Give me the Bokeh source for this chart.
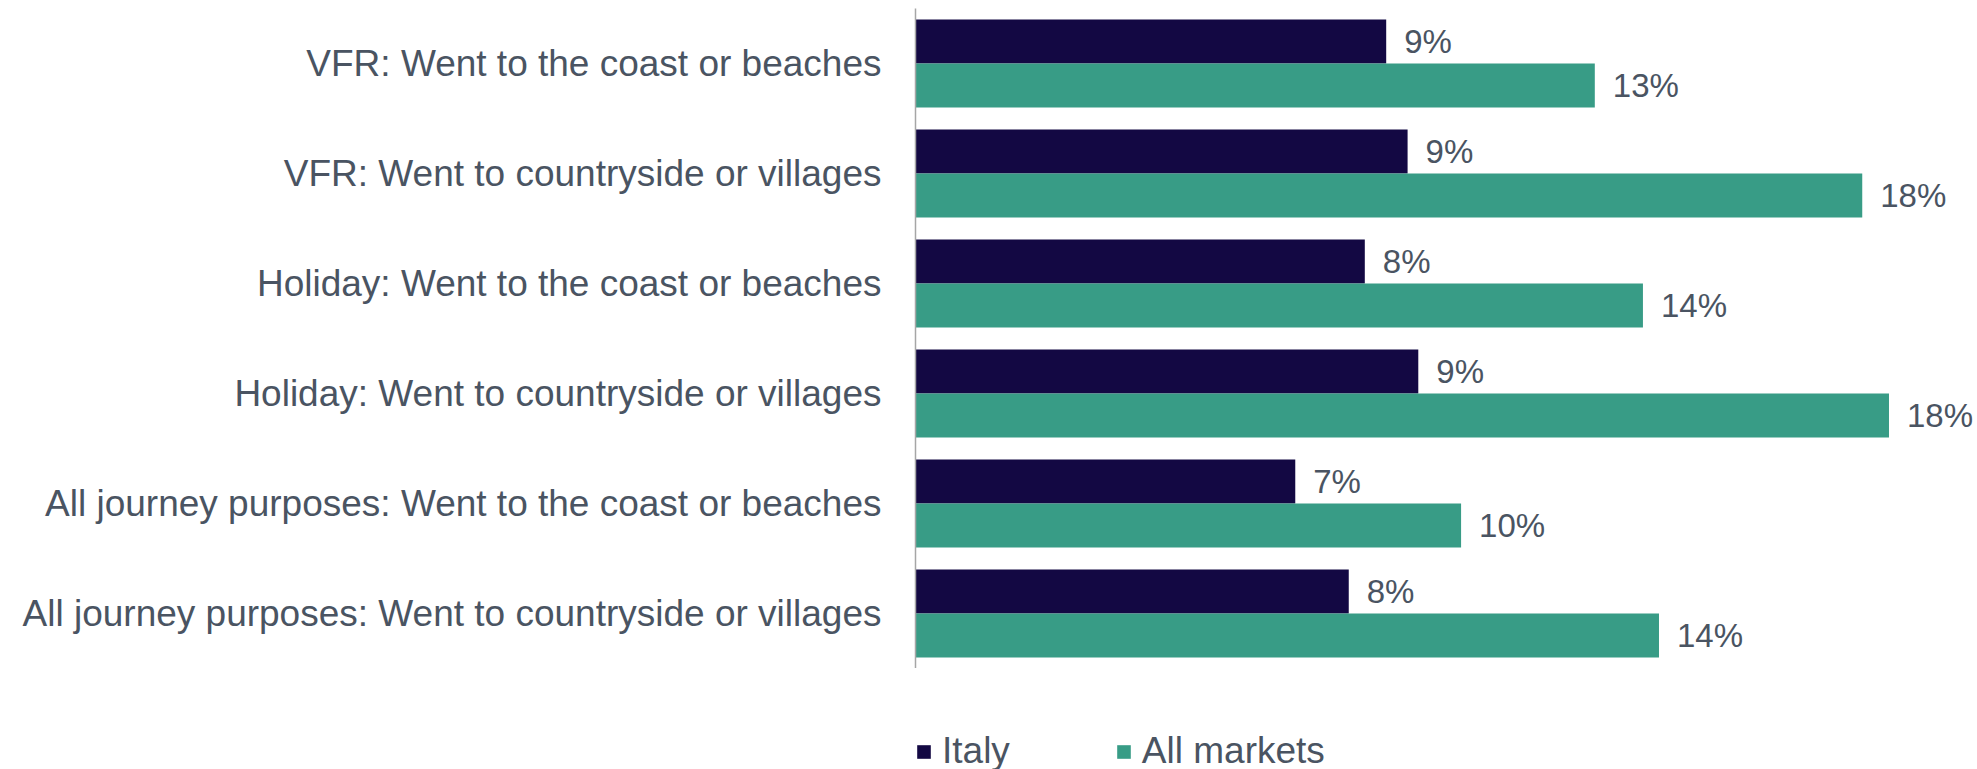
from bokeh.plotting import figure
from bokeh.models import ColumnDataSource, Range1d, FactorRange, Legend, LegendItem
from bokeh.layouts import column
from bokeh.transform import dodge
from bokeh.core.properties import value
from bokeh.embed import file_html
from bokeh.resources import INLINE

# ---- data (top to bottom as in the chart) ----
categories = [
    "VFR: Went to the coast or beaches",
    "VFR: Went to countryside or villages",
    "Holiday: Went to the coast or beaches",
    "Holiday: Went to countryside or villages",
    "All journey purposes: Went to the coast or beaches",
    "All journey purposes: Went to countryside or villages",
]
italy = [8.8, 9.2, 8.4, 9.4, 7.1, 8.1]
all_markets = [12.7, 17.7, 13.6, 18.2, 10.2, 13.9]
series_names = ["Italy", "All markets"]

NAVY = "#130843"
GREEN = "#389C86"
TEXT = "#4A5462"
FONT = "Liberation Sans"

src = ColumnDataSource(dict(
    cat=categories,
    italy=italy,
    allm=all_markets,
    italy_lbl=[f"{round(v)}%" for v in italy],
    allm_lbl=[f"{round(v)}%" for v in all_markets],
))

p = figure(
    frame_width=1058, frame_height=660,
    y_range=FactorRange(*list(reversed(categories)), range_padding=0),
    x_range=Range1d(0, 19.78),
    x_axis_location=None,
    output_backend="svg", toolbar_location=None,
    min_border_left=915, min_border_right=2, min_border_top=8, min_border_bottom=0,
)
p.outline_line_color = None
p.grid.visible = False

p.hbar(y=dodge("cat", 0.2, range=p.y_range), right="italy", left=0, height=0.4,
       source=src, fill_color=NAVY, line_color=None)
p.hbar(y=dodge("cat", -0.2, range=p.y_range), right="allm", left=0, height=0.4,
       source=src, fill_color=GREEN, line_color=None)

p.text(x="italy", y=dodge("cat", 0.2, range=p.y_range), text="italy_lbl", source=src,
       x_offset=18, text_align="left", text_baseline="middle",
       text_font=value(FONT), text_font_size="33px", text_color=TEXT)
p.text(x="allm", y=dodge("cat", -0.2, range=p.y_range), text="allm_lbl", source=src,
       x_offset=18, text_align="left", text_baseline="middle",
       text_font=value(FONT), text_font_size="33px", text_color=TEXT)

ax = p.yaxis[0]
ax.major_tick_line_color = None
ax.minor_tick_line_color = None
ax.major_tick_out = 0
ax.major_label_standoff = 34
ax.axis_line_color = "#A6A6A6"
ax.axis_line_width = 1.5
ax.major_label_text_font = FONT
ax.major_label_text_font_size = "37px"
ax.major_label_text_color = TEXT

# ---- legend strip below the chart ----
leg = figure(
    frame_width=1058, frame_height=101,
    x_range=Range1d(0, 1), y_range=Range1d(0, 1),
    x_axis_location=None, y_axis_location=None,
    output_backend="svg", toolbar_location=None,
    min_border_left=915, min_border_right=2, min_border_top=0, min_border_bottom=0,
)
leg.outline_line_color = None
leg.grid.visible = False
lr1 = leg.hbar(y=0.5, right="italy", left=0, height=0.4, source=src,
               fill_color=NAVY, line_color=None, visible=False)
lr2 = leg.hbar(y=0.5, right="allm", left=0, height=0.4, source=src,
               fill_color=GREEN, line_color=None, visible=False)

legend = Legend(
    items=[LegendItem(label=series_names[0], renderers=[lr1]),
           LegendItem(label=series_names[1], renderers=[lr2])],
    orientation="horizontal",
    location=(0, -3),
    glyph_width=17, glyph_height=17,
    label_standoff=10, spacing=105,
    padding=0, margin=0,
    border_line_color=None, background_fill_alpha=0,
    label_text_font=FONT, label_text_font_size="37px", label_text_color=TEXT,
)
leg.add_layout(legend, "center")

layout = column(p, leg, spacing=0)
open("out.html", "w").write(file_html(layout, INLINE))
